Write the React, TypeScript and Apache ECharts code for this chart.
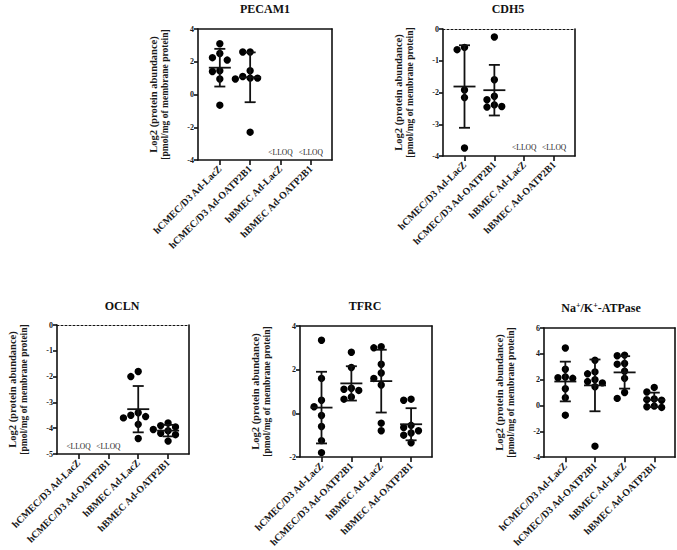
import React, { useEffect, useRef } from "react";
import * as echarts from "echarts";

// Cell models shown on every x axis
const groups = ["hCMEC/D3 Ad-LacZ", "hCMEC/D3 Ad-OATP2B1", "hBMEC Ad-LacZ", "hBMEC Ad-OATP2B1"];

// Log2 protein abundance per replicate; null = below the lower limit of quantification
const pecam1: (number[] | null)[] = [
  [3.1, 2.5, 2.25, 2.1, 1.45, 1.4, 0.95, -0.65],
  [2.6, 2.6, 1.45, 1.1, 1.0, 1.0, 0.95, -2.3],
  null,
  null,
];
const cdh5: (number[] | null)[] = [
  [-0.58, -0.65, -1.92, -2.16, -3.75],
  [-0.25, -1.6, -2.12, -2.23, -2.39, -2.44, -2.46],
  null,
  null,
];
const ocln: (number[] | null)[] = [
  null,
  null,
  [-1.8, -2.0, -3.4, -3.5, -3.55, -3.6, -3.85, -4.4],
  [-3.8, -3.9, -3.95, -4.05, -4.1, -4.2, -4.25, -4.5],
];
const tfrc: (number[] | null)[] = [
  [3.35, 1.6, 0.6, 0.3, -0.1, -0.6, -1.25, -1.8],
  [2.8, 2.1, 1.15, 1.1, 1.05, 0.75, 0.65],
  [3.05, 3.0, 2.25, 1.85, 1.6, 1.3, -0.45, -0.8],
  [0.65, 0.6, -0.55, -0.65, -0.8, -0.9, -1.0, -1.35],
];
const nakAtpase: (number[] | null)[] = [
  [4.45, 2.8, 2.2, 2.15, 2.1, 1.3, 0.6, -0.75],
  [3.5, 2.6, 2.45, 2.0, 1.85, 1.75, 1.45, -3.15],
  [3.9, 3.85, 3.25, 3.2, 2.65, 2.1, 1.0, 0.55],
  [1.4, 1.05, 0.5, 0.45, 0.4, -0.05, -0.1, -0.15],
];

// Y-axis ranges (min, max, step) and the level of the "<LLOQ" notes
const yRanges = [
  [-4, 4, 2],
  [-4, 0, 1],
  [-5, 0, 1],
  [-2, 4, 2],
  [-4, 6, 2],
];
const lloqLevels = [-3.55, -3.73, -4.69, null, null];

const panelData = [pecam1, cdh5, ocln, tfrc, nakAtpase];

// Layout of each plot frame (px)
const frames = [
  { left: 198, top: 29, width: 134, height: 131, titleX: 265, titleY: 9 },
  { left: 443, top: 29, width: 132, height: 127, titleX: 508, titleY: 9 },
  { left: 57, top: 325, width: 132, height: 129, titleX: 122, titleY: 306 },
  { left: 300, top: 326, width: 132, height: 131, titleX: 365, titleY: 306 },
  { left: 544, top: 328, width: 131, height: 131, titleX: 601, titleY: 308 },
];

const X_MIN = -0.72;
const X_MAX = 3.7;
const SERIF = "'Liberation Serif', 'Times New Roman', serif";

function mean(v: number[]) {
  return v.reduce((a, b) => a + b, 0) / v.length;
}
function sd(v: number[]) {
  const m = mean(v);
  return Math.sqrt(v.reduce((a, b) => a + (b - m) * (b - m), 0) / (v.length - 1));
}

// Spread overlapping dots sideways (beeswarm), returns x offsets in axis units
function swarm(vals: number[], pxPerY: number, pxPerX: number, diam: number) {
  const placed: { x: number; y: number }[] = [];
  const order = vals.map((_, i) => i).sort((a, b) => vals[b] - vals[a]);
  const out = new Array(vals.length).fill(0);
  const cands = [0, -1, 1, -2, 2, -3, 3];
  for (const i of order) {
    const py = vals[i] * pxPerY;
    for (const k of cands) {
      const px = k * diam;
      if (placed.every((p) => Math.hypot(p.x - px, p.y - py) >= diam * 0.92)) {
        placed.push({ x: px, y: py });
        out[i] = px / pxPerX;
        break;
      }
    }
  }
  return out;
}

function buildOption() {
  const grid: any[] = [];
  const xAxis: any[] = [];
  const yAxis: any[] = [];
  const series: any[] = [];
  const graphic: any[] = [];
  const titles = ["PECAM1", "CDH5", "OCLN", "TFRC", "{m|Na}{s|+}{m|/K}{s|+}{m|-ATPase}"];

  panelData.forEach((data, p) => {
    const f = frames[p];
    const [yMin, yMax, yStep] = yRanges[p];
    grid.push({ left: f.left, top: f.top, width: f.width, height: f.height, containLabel: false });

    const dotted = yMax === 0;
    xAxis.push({
      type: "value",
      gridIndex: p,
      min: X_MIN,
      max: X_MAX,
      position: "bottom",
      splitLine: { show: false },
      axisLine: { show: true, onZero: false, lineStyle: { color: "#111", width: 1.6 } },
      axisTick: { show: true, customValues: [0, 1, 2, 3], length: 5, lineStyle: { color: "#111", width: 1.6 } },
      axisLabel: {
        show: true,
        customValues: [0, 1, 2, 3],
        formatter: (v: number) => groups[Math.round(v)] ?? "",
        rotate: 45,
        margin: 7,
        fontFamily: SERIF,
        fontWeight: "bold",
        fontSize: 10,
        color: "#1a1a1a",
      },
    });
    xAxis.push({
      type: "value",
      gridIndex: p,
      min: X_MIN,
      max: X_MAX,
      position: "top",
      splitLine: { show: false },
      axisTick: { show: false },
      axisLabel: { show: false },
      axisLine: {
        show: true,
        onZero: false,
        lineStyle: { color: "#111", width: dotted ? 1 : 1.6, type: dotted ? [2, 2] : "solid" },
      },
    });
    yAxis.push({
      type: "value",
      gridIndex: p,
      min: yMin,
      max: yMax,
      interval: yStep,
      position: "left",
      splitLine: { show: false },
      axisLine: { show: true, onZero: false, lineStyle: { color: "#111", width: 1.6 } },
      axisTick: { show: true, length: 4, lineStyle: { color: "#111", width: 1.6 } },
      axisLabel: { fontFamily: SERIF, fontWeight: "bold", fontSize: 8, color: "#1a1a1a", margin: 4 },
      name: "{a|Log2 (protein abundance)}\n{b|[pmol/mg of membrane protein]}",
      nameLocation: "middle",
      nameRotate: 90,
      nameGap: 28,
      nameTextStyle: {
        rich: {
          a: { fontFamily: SERIF, fontWeight: "bold", fontSize: 10.5, lineHeight: 11, color: "#1a1a1a" },
          b: { fontFamily: SERIF, fontWeight: "bold", fontSize: 9.5, lineHeight: 11, color: "#1a1a1a" },
        },
      },
    });
    yAxis.push({
      type: "value",
      gridIndex: p,
      min: yMin,
      max: yMax,
      interval: yStep,
      position: "right",
      splitLine: { show: false },
      axisTick: { show: false },
      axisLabel: { show: false },
      axisLine: { show: true, onZero: false, lineStyle: { color: "#111", width: 1.6 } },
    });

    const pxPerY = f.height / (yMax - yMin);
    const pxPerX = f.width / (X_MAX - X_MIN);
    const points: number[][] = [];
    const bars: number[][] = [];
    const lloq: number[][] = [];
    data.forEach((vals, g) => {
      if (!vals) {
        const lv = lloqLevels[p];
        if (lv !== null) lloq.push([g, lv]);
        return;
      }
      const offs = swarm(vals, pxPerY, pxPerX, 7.4);
      vals.forEach((v, i) => points.push([g + offs[i], v]));
      const m = mean(vals);
      const s = sd(vals);
      bars.push([g, m, m - s, m + s]);
    });

    series.push({
      type: "scatter",
      xAxisIndex: 2 * p,
      yAxisIndex: 2 * p,
      data: points,
      symbol: "circle",
      symbolSize: 7.4,
      itemStyle: { color: "#000", opacity: 1 },
      z: 3,
    });
    series.push({
      type: "custom",
      xAxisIndex: 2 * p,
      yAxisIndex: 2 * p,
      data: bars,
      z: 4,
      renderItem: (_params: any, api: any) => {
        const c = api.coord([api.value(0), api.value(1)]);
        const lo = api.coord([api.value(0), api.value(2)]);
        const hi = api.coord([api.value(0), api.value(3)]);
        const style = { stroke: "#111", lineWidth: 1.8 };
        return {
          type: "group",
          children: [
            { type: "line", shape: { x1: c[0], y1: hi[1], x2: c[0], y2: lo[1] }, style },
            { type: "line", shape: { x1: c[0] - 5.5, y1: hi[1], x2: c[0] + 5.5, y2: hi[1] }, style },
            { type: "line", shape: { x1: c[0] - 5.5, y1: lo[1], x2: c[0] + 5.5, y2: lo[1] }, style },
            { type: "line", shape: { x1: c[0] - 11, y1: c[1], x2: c[0] + 11, y2: c[1] }, style },
          ],
        };
      },
    });
    if (lloq.length) {
      // "<LLOQ" notes for groups below the quantification limit
      series.push({
        type: "custom",
        xAxisIndex: 2 * p,
        yAxisIndex: 2 * p,
        data: lloq,
        silent: true,
        renderItem: (_params: any, api: any) => {
          const c = api.coord([api.value(0), api.value(1)]);
          return {
            type: "text",
            x: c[0],
            y: c[1],
            style: {
              text: "<LLOQ",
              align: "center",
              verticalAlign: "middle",
              fontFamily: SERIF,
              fontSize: 7.5,
              fill: "#222",
            },
          };
        },
      });
    }

    graphic.push({
      type: "text",
      x: f.titleX,
      y: f.titleY,
      style: {
        text: titles[p],
        align: "center",
        verticalAlign: "middle",
        fontFamily: SERIF,
        fontWeight: "bold",
        fontSize: 12,
        fill: "#111",
        rich: {
          m: { fontFamily: SERIF, fontWeight: "bold", fontSize: 12, fill: "#111", lineHeight: 14 },
          s: { fontFamily: SERIF, fontWeight: "bold", fontSize: 8, fill: "#111", lineHeight: 14, verticalAlign: "top" },
        },
      },
    });
  });

  return {
    animation: false,
    backgroundColor: "#fff",
    grid,
    xAxis,
    yAxis,
    series,
    graphic,
  };
}

export default function App() {
  const ref = useRef<HTMLDivElement>(null);
  useEffect(() => {
    if (!ref.current) return;
    const chart = echarts.init(ref.current, undefined, { renderer: "svg" });
    chart.setOption(buildOption() as any);
    return () => chart.dispose();
  }, []);
  return <div ref={ref} style={{ position: "fixed", left: 0, top: 0, width: 677, height: 550 }} />;
}
